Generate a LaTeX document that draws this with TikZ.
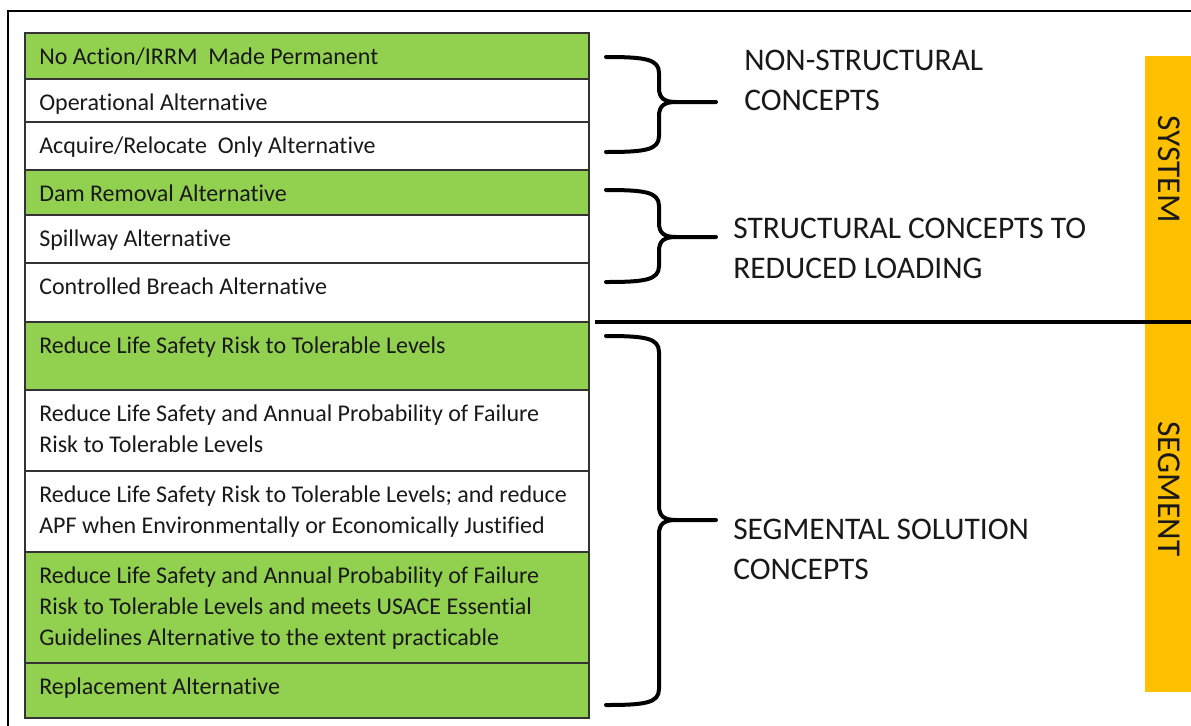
\documentclass[tikz,border=0pt]{standalone}
\usepackage{fontspec}
\setmainfont{Carlito}[Ligatures=NoCommon]
\definecolor{rowgreen}{HTML}{92D050}
\definecolor{barorange}{HTML}{FFC000}
\definecolor{rowline}{HTML}{333333}
\newcommand{\myrow}[5]{%
  \draw[rowborder, fill=#4] (25,#2) rectangle (589,#3);
  \node[rowtext] (#1) at (39,#2+15) {#5};}
\newcommand{\mybrace}[4]{% name, top y, bottom y, tip y
  \coordinate (#1top) at (606,#2);
  \coordinate (#1bot) at (606,#3);
  \coordinate (#1tip) at (716,#4);
  \draw[bracepen] (#1top) .. controls (645,#2) and (659,#2+2) .. (659,#2+16)
     -- (659,#4-14) .. controls (659,#4-4) and (664,#4) .. (676,#4) -- (#1tip);
  \draw[bracepen] (#1bot) .. controls (645,#3) and (659,#3-2) .. (659,#3-16)
     -- (659,#4+14) .. controls (659,#4+4) and (664,#4) .. (676,#4);}
\begin{document}
\begin{tikzpicture}[x=0.75pt,y=-0.75pt,
  rowborder/.style={draw=rowline, line width=1.3pt},
  rowtext/.style={anchor=north west, inner sep=0pt, align=left, text=black!90,
    font=\fontsize{18}{23.25}\selectfont},
  grouplabel/.style={anchor=north west, inner sep=0pt, align=left, text=black!90,
    font=\fontsize{23.6}{30}\selectfont},
  sidelabel/.style={rotate=-90, inner sep=0pt, text=black!90,
    font=\fontsize{25}{28}\selectfont},
  bracepen/.style={line width=3pt, line cap=round, line join=round, black}]
\useasboundingbox (0,0) rectangle (1191,725);
\clip (0,0) rectangle (1191,725);
\fill[white] (0,0) rectangle (1191,725);
% outer frame
\draw[line width=1.6pt, black] (8,740) -- (8,11) -- (1200,11);
% orange side bar
\fill[barorange] (1145,56) rectangle (1200,692);
\node[sidelabel] (sys) at (1169,169) {SYSTEM};
\node[sidelabel] (seg) at (1169,489) {SEGMENT};
% rows
\myrow{r1}{33}{79}{rowgreen}{No Action/IRRM\ \ Made Permanent}
\myrow{r2}{79}{122}{white}{Operational Alternative}
\myrow{r3}{122}{170}{white}{Acquire/Relocate\ \ Only Alternative}
\myrow{r4}{170}{215}{rowgreen}{Dam Removal Alternative}
\myrow{r5}{215}{263}{white}{Spillway Alternative}
\myrow{r6}{263}{322}{white}{Controlled Breach Alternative}
\myrow{r7}{322}{390}{rowgreen}{Reduce Life Safety Risk to Tolerable Levels}
\myrow{r8}{390}{471}{white}{Reduce Life Safety and Annual Probability of Failure\\Risk to Tolerable Levels}
\myrow{r9}{471}{552}{white}{Reduce Life Safety Risk to Tolerable Levels; and reduce\\APF when Environmentally or Economically Justified}
\myrow{r10}{552}{663}{rowgreen}{Reduce Life Safety and Annual Probability of Failure\\Risk to Tolerable Levels and meets USACE Essential\\Guidelines Alternative to the extent practicable}
\myrow{r11}{663}{718}{rowgreen}{Replacement Alternative}
% divider
\coordinate (divL) at (595,322);
\coordinate (divR) at (1200,322);
\draw[line width=2.6pt, black] (divL) -- (divR);
% braces
\mybrace{b1}{57}{152}{102}
\mybrace{b2}{190}{282}{237}
\mybrace{b3}{336}{705}{520}
% group labels
\node[grouplabel] (g1) at (744,50) {NON-STRUCTURAL\\CONCEPTS};
\node[grouplabel] (g2) at (733,218) {STRUCTURAL CONCEPTS TO\\REDUCED LOADING};
\node[grouplabel] (g3) at (733,519) {SEGMENTAL SOLUTION\\CONCEPTS};
\end{tikzpicture}
\end{document}
